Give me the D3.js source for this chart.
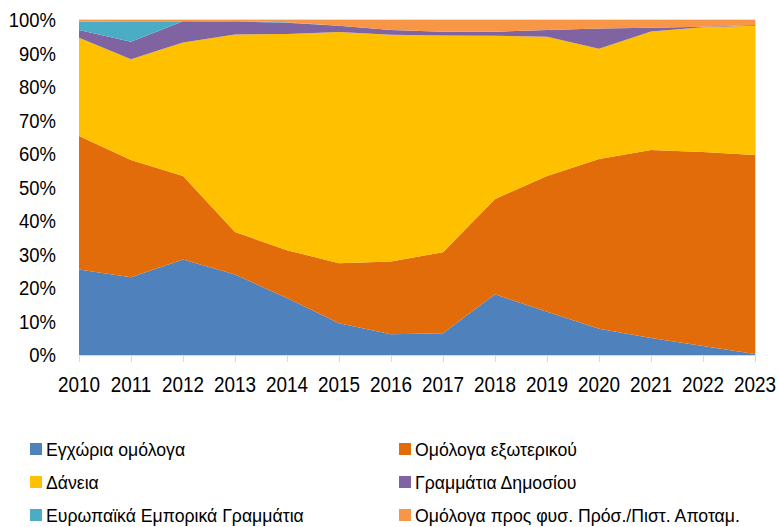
<!DOCTYPE html>
<html>
<head>
<meta charset="utf-8">
<script src="https://cdn.jsdelivr.net/npm/d3@7"></script>
<style>
 body { margin: 0; background: #fff; }
 svg { font-family: Arial, "Liberation Sans", sans-serif; }
</style>
</head>
<body>
<div id="chart"></div>
<script>
// shares of debt by instrument, per year (%)
var years = [2010, 2011, 2012, 2013, 2014, 2015, 2016, 2017, 2018, 2019, 2020, 2021, 2022, 2023];
var domesticBonds = [25.5, 23.2, 28.5, 24.0, 17.0, 9.5, 6.2, 6.5, 18.1, 12.9, 7.8, 5.1, 2.7, 0.3];
var foreignBonds  = [39.9, 35.0, 24.9, 12.7, 14.3, 17.9, 21.7, 24.2, 28.5, 40.5, 50.7, 56.1, 57.9, 59.4];
var loans         = [29.3, 30.1, 39.9, 59.0, 64.5, 69.0, 67.7, 64.7, 48.7, 41.6, 32.9, 35.4, 37.2, 38.6];
var tBills        = [2.3, 5.2, 6.3, 3.8, 3.4, 1.9, 1.4, 1.1, 1.2, 2.0, 6.1, 1.1, 0.2, 0.2];
var euroCP        = [2.5, 6.1, 0.0, 0.2, 0.1, 0.0, 0.0, 0.0, 0.0, 0.0, 0.0, 0.0, 0.0, 0.0];
var retailBonds   = [0.5, 0.4, 0.4, 0.3, 0.7, 1.7, 3.0, 3.5, 3.5, 3.0, 2.5, 2.3, 2.0, 1.5];

var seriesNames = ["Εγχώρια ομόλογα", "Ομόλογα εξωτερικού", "Δάνεια", "Γραμμάτια Δημοσίου",
                   "Ευρωπαϊκά Εμπορικά Γραμμάτια", "Ομόλογα προς φυσ. Πρόσ./Πιστ. Αποταμ."];
var seriesColors = ["#4F81BD", "#E36C0A", "#FFC000", "#8064A2", "#4BACC6", "#F79646"];
var yTicks = [0, 10, 20, 30, 40, 50, 60, 70, 80, 90, 100];

var W = 779, H = 527;
var svg = d3.select("#chart").append("svg").attr("width", W).attr("height", H);

var keys = ["a", "b", "c", "d", "e", "f"];
var rows = years.map(function(y, i) {
    return {year: y, a: domesticBonds[i], b: foreignBonds[i], c: loans[i],
            d: tBills[i], e: euroCP[i], f: retailBonds[i]};
});

var x = d3.scaleLinear().domain([2010, 2023]).range([79, 755]);
var y = d3.scaleLinear().domain([0, 100]).range([355, 20]);

var layers = d3.stack().keys(keys).offset(d3.stackOffsetExpand)(rows);

var area = d3.area()
    .x(function(d) { return x(d.data.year); })
    .y0(function(d) { return y(d[0] * 100); })
    .y1(function(d) { return y(d[1] * 100); });

svg.append("g").selectAll("path").data(layers).enter().append("path")
    .attr("d", area)
    .attr("fill", function(d, i) { return seriesColors[i]; });

// light frame lines
svg.append("line").attr("x1", x(2010)).attr("x2", x(2023)).attr("y1", 19.5).attr("y2", 19.5)
   .attr("stroke", "#e0e0e0");
svg.append("line").attr("x1", x(2023) + 0.5).attr("x2", x(2023) + 0.5).attr("y1", 20).attr("y2", 355)
   .attr("stroke", "#e0e0e0");

// text helper: the source font is a vertically stretched Arial
function label(g, tx, ty, size, sx, anchor, str) {
    return g.append("text")
        .attr("transform", "translate(" + tx + "," + ty + ") scale(" + sx + ",1)")
        .attr("text-anchor", anchor)
        .attr("font-size", size)
        .attr("fill", "#000")
        .text(str);
}

// x axis
var xAxis = svg.append("g").attr("transform", "translate(0,355)");
xAxis.append("line").attr("x1", x(2010)).attr("x2", x(2023)).attr("y1", 0.5).attr("y2", 0.5)
     .attr("stroke", "#d9d9d9");
xAxis.selectAll("line.tick").data(years).enter().append("line")
     .attr("class", "tick")
     .attr("x1", function(d) { return Math.round(x(d)) + 0.5; })
     .attr("x2", function(d) { return Math.round(x(d)) + 0.5; })
     .attr("y1", 0).attr("y2", 7)
     .attr("stroke", "#d9d9d9");
years.forEach(function(d) {
    label(xAxis, x(d), 37, 22, 0.86, "middle", d);
});

// y axis labels
var yAxis = svg.append("g");
yTicks.forEach(function(d) {
    label(yAxis, 56, y(d) + 7, 21, 0.88, "end", d + "%");
});

// legend (last row nudged up so descenders stay inside the page)
var legend = svg.append("g");
seriesNames.forEach(function(name, i) {
    var col = i % 2, row = Math.floor(i / 2);
    var lx = col === 0 ? 30 : 399;
    var base = 456 + row * 33;
    legend.append("rect").attr("x", lx).attr("y", base - 13).attr("width", 12).attr("height", 12)
          .attr("fill", seriesColors[i]);
    label(legend, lx + 16, base, 19, 0.93, "start", name);
});
</script>
</body>
</html>
